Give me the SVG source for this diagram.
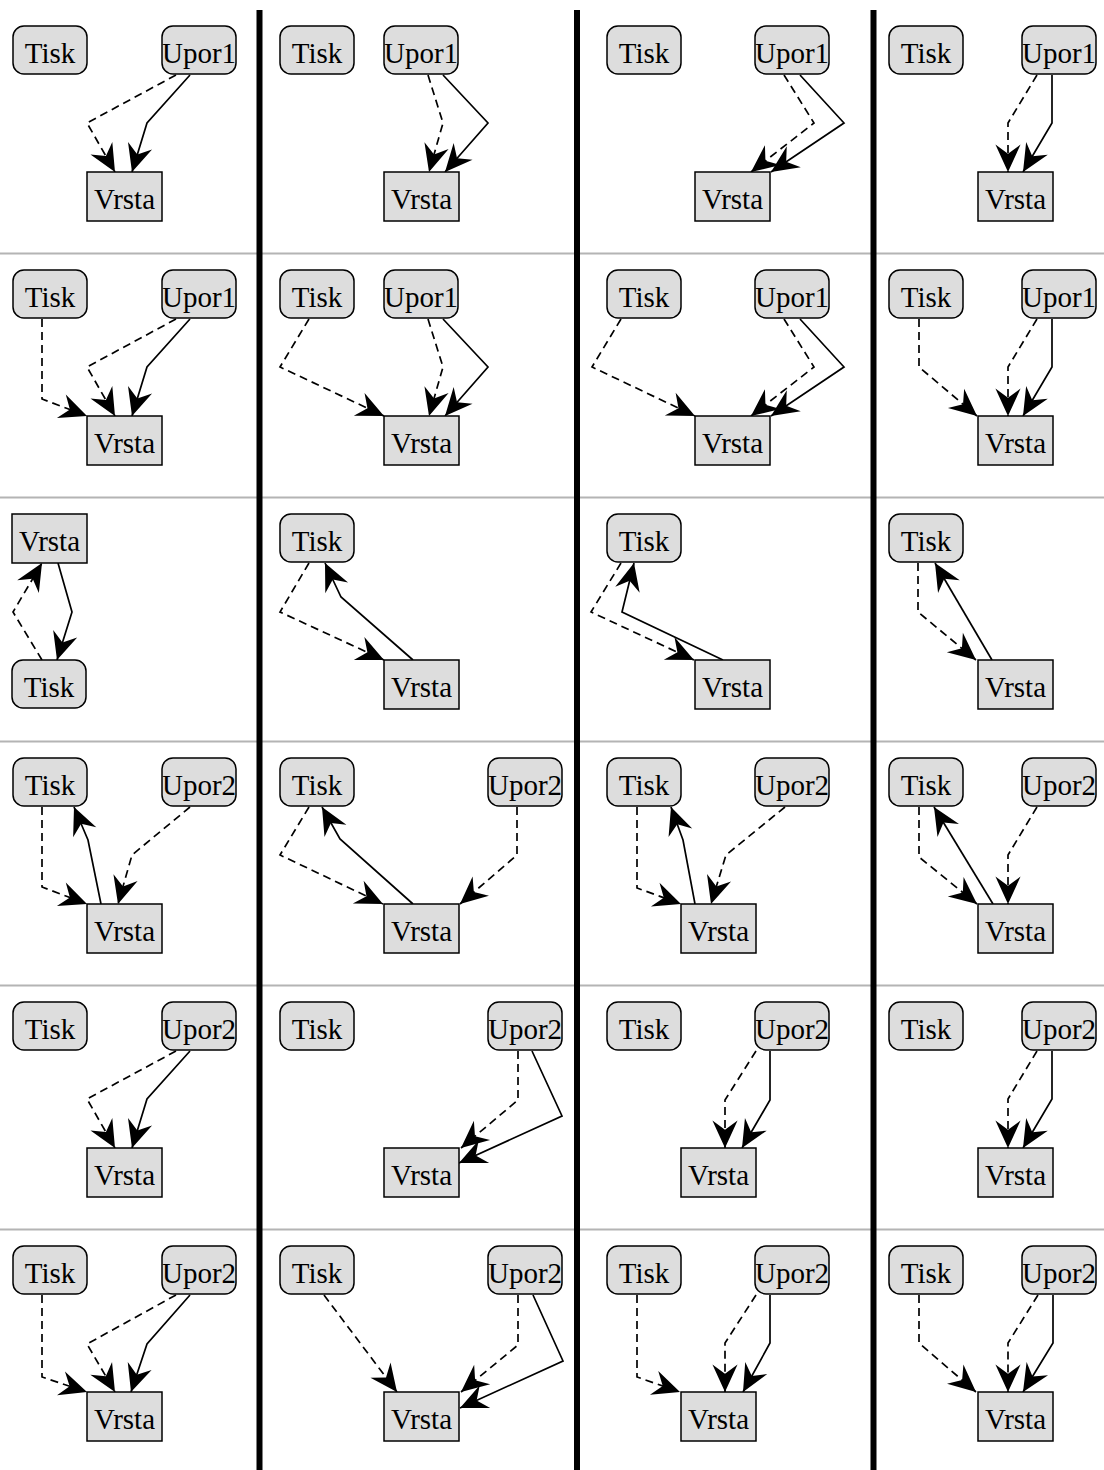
<svg xmlns="http://www.w3.org/2000/svg" width="1104" height="1470" viewBox="0 0 1104 1470">
<style>
.n{fill:#dddddd;stroke:#000;stroke-width:1.5}
text{font-family:'Liberation Serif','Times New Roman',Times,'DejaVu Serif',serif;font-size:29px;text-anchor:middle;fill:#000}
.e{fill:none;stroke:#000;stroke-width:1.7;marker-end:url(#ah)}
.d{stroke-dasharray:8 5}
.g{stroke:#b4b4b4;stroke-width:2}
.b{fill:#000}
</style>
<defs>
<marker id="ah" markerUnits="userSpaceOnUse" markerWidth="40" markerHeight="40" viewBox="-30 -15 35 30" refX="0" refY="0" orient="auto" overflow="visible">
<path d="M0,0 L-24,-11 L-16,0 L-24,11 Z" fill="#000" stroke="none"/>
</marker>
</defs>
<rect width="1104" height="1470" fill="#fff"/>
<g id="grid">
<line class="g" x1="0" y1="253.5" x2="1104" y2="253.5"/>
<line class="g" x1="0" y1="497.5" x2="1104" y2="497.5"/>
<line class="g" x1="0" y1="741.5" x2="1104" y2="741.5"/>
<line class="g" x1="0" y1="985.5" x2="1104" y2="985.5"/>
<line class="g" x1="0" y1="1229.5" x2="1104" y2="1229.5"/>
<rect class="b" x="256.5" y="10" width="6" height="1460"/>
<rect class="b" x="574" y="10" width="6" height="1460"/>
<rect class="b" x="870.5" y="10" width="6" height="1460"/>
</g>
<g id="edges">
<polyline class="e d" points="176,75 87,123 115,172"/>
<polyline class="e" points="190,75 147,123 132,172"/>
<polyline class="e d" points="428,75 443,123 429,172"/>
<polyline class="e" points="443,75 488,123 445,172"/>
<polyline class="e d" points="784,75 814,123 751,172"/>
<polyline class="e" points="800,75 844,123 771,172"/>
<polyline class="e d" points="1037,75 1008,123 1008,172"/>
<polyline class="e" points="1052,75 1052,123 1023,172"/>
<polyline class="e d" points="42,319 42,399 87,416"/>
<polyline class="e d" points="176,319 87,367 115,416"/>
<polyline class="e" points="190,319 147,367 132,416"/>
<polyline class="e d" points="309,319 280,367 384,416"/>
<polyline class="e d" points="428,319 443,367 429,416"/>
<polyline class="e" points="443,319 488,367 445,416"/>
<polyline class="e d" points="621,319 592,367 695,416"/>
<polyline class="e d" points="784,319 814,367 751,416"/>
<polyline class="e" points="800,319 844,367 771,416"/>
<polyline class="e d" points="919,319 919,367 977,416"/>
<polyline class="e d" points="1037,319 1008,367 1008,416"/>
<polyline class="e" points="1052,319 1052,367 1023,416"/>
<polyline class="e d" points="42,660 13,612 42,563"/>
<polyline class="e" points="58,563 72,612 57,660"/>
<polyline class="e d" points="309,563 280,612 384,660"/>
<polyline class="e" points="413,660 341,597 325,563"/>
<polyline class="e d" points="621,563 591,612 694,660"/>
<polyline class="e" points="723,660 622,612 634,563"/>
<polyline class="e d" points="918,563 918,612 976,660"/>
<polyline class="e" points="992,660 935,563"/>
<polyline class="e d" points="42,807 42,887 87,904"/>
<polyline class="e" points="101,904 88,840 74,807"/>
<polyline class="e d" points="190,807 132,855 118,904"/>
<polyline class="e d" points="309,807 280,855 383,904"/>
<polyline class="e" points="413,904 340,839 322,807"/>
<polyline class="e d" points="517,807 517,855 460,904"/>
<polyline class="e d" points="637,807 637,888 681,904"/>
<polyline class="e" points="695,904 683,840 671,807"/>
<polyline class="e d" points="785,807 726,855 711,904"/>
<polyline class="e d" points="919,807 919,857 977,904"/>
<polyline class="e" points="993,904 934,807"/>
<polyline class="e d" points="1037,807 1008,855 1008,904"/>
<polyline class="e d" points="176,1051 87,1099 115,1148"/>
<polyline class="e" points="190,1051 147,1099 132,1148"/>
<polyline class="e d" points="518,1051 518,1100 461,1148"/>
<polyline class="e" points="532,1051 562,1116 459,1163"/>
<polyline class="e d" points="756,1051 725,1100 725,1148"/>
<polyline class="e" points="770,1051 770,1100 742,1148"/>
<polyline class="e d" points="1037,1051 1008,1099 1008,1148"/>
<polyline class="e" points="1052,1051 1052,1099 1023,1148"/>
<polyline class="e d" points="42,1295 42,1377 87,1392"/>
<polyline class="e d" points="176,1295 87,1344 115,1392"/>
<polyline class="e" points="190,1295 147,1344 131,1392"/>
<polyline class="e d" points="324,1295 397,1392"/>
<polyline class="e d" points="518,1295 518,1345 461,1392"/>
<polyline class="e" points="533,1295 563,1361 460,1408"/>
<polyline class="e d" points="637,1295 637,1377 680,1392"/>
<polyline class="e d" points="756,1295 725,1343 725,1392"/>
<polyline class="e" points="770,1295 770,1343 743,1392"/>
<polyline class="e d" points="919,1295 919,1343 976,1392"/>
<polyline class="e d" points="1038,1295 1008,1343 1008,1392"/>
<polyline class="e" points="1053,1295 1053,1343 1023,1392"/>
</g>
<g id="r0c0-tisk"><rect class="n" x="13" y="26" width="74" height="48" rx="11"/><text x="50" y="63">Tisk</text></g>
<g id="r0c0-upor1"><rect class="n" x="162" y="26" width="74" height="48" rx="11"/><text x="199" y="63">Upor1</text></g>
<g id="r0c0-vrsta"><rect class="n" x="87" y="172" width="75" height="49"/><text x="124.5" y="209">Vrsta</text></g>
<g id="r0c1-tisk"><rect class="n" x="280" y="26" width="74" height="48" rx="11"/><text x="317" y="63">Tisk</text></g>
<g id="r0c1-upor1"><rect class="n" x="384" y="26" width="74" height="48" rx="11"/><text x="421" y="63">Upor1</text></g>
<g id="r0c1-vrsta"><rect class="n" x="384" y="172" width="75" height="49"/><text x="421.5" y="209">Vrsta</text></g>
<g id="r0c2-tisk"><rect class="n" x="607" y="26" width="74" height="48" rx="11"/><text x="644" y="63">Tisk</text></g>
<g id="r0c2-upor1"><rect class="n" x="755" y="26" width="74" height="48" rx="11"/><text x="792" y="63">Upor1</text></g>
<g id="r0c2-vrsta"><rect class="n" x="695" y="172" width="75" height="49"/><text x="732.5" y="209">Vrsta</text></g>
<g id="r0c3-tisk"><rect class="n" x="889" y="26" width="74" height="48" rx="11"/><text x="926" y="63">Tisk</text></g>
<g id="r0c3-upor1"><rect class="n" x="1022" y="26" width="74" height="48" rx="11"/><text x="1059" y="63">Upor1</text></g>
<g id="r0c3-vrsta"><rect class="n" x="978" y="172" width="75" height="49"/><text x="1015.5" y="209">Vrsta</text></g>
<g id="r1c0-tisk"><rect class="n" x="13" y="270" width="74" height="48" rx="11"/><text x="50" y="307">Tisk</text></g>
<g id="r1c0-upor1"><rect class="n" x="162" y="270" width="74" height="48" rx="11"/><text x="199" y="307">Upor1</text></g>
<g id="r1c0-vrsta"><rect class="n" x="87" y="416" width="75" height="49"/><text x="124.5" y="453">Vrsta</text></g>
<g id="r1c1-tisk"><rect class="n" x="280" y="270" width="74" height="48" rx="11"/><text x="317" y="307">Tisk</text></g>
<g id="r1c1-upor1"><rect class="n" x="384" y="270" width="74" height="48" rx="11"/><text x="421" y="307">Upor1</text></g>
<g id="r1c1-vrsta"><rect class="n" x="384" y="416" width="75" height="49"/><text x="421.5" y="453">Vrsta</text></g>
<g id="r1c2-tisk"><rect class="n" x="607" y="270" width="74" height="48" rx="11"/><text x="644" y="307">Tisk</text></g>
<g id="r1c2-upor1"><rect class="n" x="755" y="270" width="74" height="48" rx="11"/><text x="792" y="307">Upor1</text></g>
<g id="r1c2-vrsta"><rect class="n" x="695" y="416" width="75" height="49"/><text x="732.5" y="453">Vrsta</text></g>
<g id="r1c3-tisk"><rect class="n" x="889" y="270" width="74" height="48" rx="11"/><text x="926" y="307">Tisk</text></g>
<g id="r1c3-upor1"><rect class="n" x="1022" y="270" width="74" height="48" rx="11"/><text x="1059" y="307">Upor1</text></g>
<g id="r1c3-vrsta"><rect class="n" x="978" y="416" width="75" height="49"/><text x="1015.5" y="453">Vrsta</text></g>
<g id="r2c0-vrsta"><rect class="n" x="12" y="514" width="75" height="49"/><text x="49.5" y="551">Vrsta</text></g>
<g id="r2c0-tisk"><rect class="n" x="12" y="660" width="74" height="48" rx="11"/><text x="49" y="697">Tisk</text></g>
<g id="r2c1-tisk"><rect class="n" x="280" y="514" width="74" height="48" rx="11"/><text x="317" y="551">Tisk</text></g>
<g id="r2c1-vrsta"><rect class="n" x="384" y="660" width="75" height="49"/><text x="421.5" y="697">Vrsta</text></g>
<g id="r2c2-tisk"><rect class="n" x="607" y="514" width="74" height="48" rx="11"/><text x="644" y="551">Tisk</text></g>
<g id="r2c2-vrsta"><rect class="n" x="695" y="660" width="75" height="49"/><text x="732.5" y="697">Vrsta</text></g>
<g id="r2c3-tisk"><rect class="n" x="889" y="514" width="74" height="48" rx="11"/><text x="926" y="551">Tisk</text></g>
<g id="r2c3-vrsta"><rect class="n" x="978" y="660" width="75" height="49"/><text x="1015.5" y="697">Vrsta</text></g>
<g id="r3c0-tisk"><rect class="n" x="13" y="758" width="74" height="48" rx="11"/><text x="50" y="795">Tisk</text></g>
<g id="r3c0-upor2"><rect class="n" x="162" y="758" width="74" height="48" rx="11"/><text x="199" y="795">Upor2</text></g>
<g id="r3c0-vrsta"><rect class="n" x="87" y="904" width="75" height="49"/><text x="124.5" y="941">Vrsta</text></g>
<g id="r3c1-tisk"><rect class="n" x="280" y="758" width="74" height="48" rx="11"/><text x="317" y="795">Tisk</text></g>
<g id="r3c1-upor2"><rect class="n" x="488" y="758" width="74" height="48" rx="11"/><text x="525" y="795">Upor2</text></g>
<g id="r3c1-vrsta"><rect class="n" x="384" y="904" width="75" height="49"/><text x="421.5" y="941">Vrsta</text></g>
<g id="r3c2-tisk"><rect class="n" x="607" y="758" width="74" height="48" rx="11"/><text x="644" y="795">Tisk</text></g>
<g id="r3c2-upor2"><rect class="n" x="755" y="758" width="74" height="48" rx="11"/><text x="792" y="795">Upor2</text></g>
<g id="r3c2-vrsta"><rect class="n" x="681" y="904" width="75" height="49"/><text x="718.5" y="941">Vrsta</text></g>
<g id="r3c3-tisk"><rect class="n" x="889" y="758" width="74" height="48" rx="11"/><text x="926" y="795">Tisk</text></g>
<g id="r3c3-upor2"><rect class="n" x="1022" y="758" width="74" height="48" rx="11"/><text x="1059" y="795">Upor2</text></g>
<g id="r3c3-vrsta"><rect class="n" x="978" y="904" width="75" height="49"/><text x="1015.5" y="941">Vrsta</text></g>
<g id="r4c0-tisk"><rect class="n" x="13" y="1002" width="74" height="48" rx="11"/><text x="50" y="1039">Tisk</text></g>
<g id="r4c0-upor2"><rect class="n" x="162" y="1002" width="74" height="48" rx="11"/><text x="199" y="1039">Upor2</text></g>
<g id="r4c0-vrsta"><rect class="n" x="87" y="1148" width="75" height="49"/><text x="124.5" y="1185">Vrsta</text></g>
<g id="r4c1-tisk"><rect class="n" x="280" y="1002" width="74" height="48" rx="11"/><text x="317" y="1039">Tisk</text></g>
<g id="r4c1-upor2"><rect class="n" x="488" y="1002" width="74" height="48" rx="11"/><text x="525" y="1039">Upor2</text></g>
<g id="r4c1-vrsta"><rect class="n" x="384" y="1148" width="75" height="49"/><text x="421.5" y="1185">Vrsta</text></g>
<g id="r4c2-tisk"><rect class="n" x="607" y="1002" width="74" height="48" rx="11"/><text x="644" y="1039">Tisk</text></g>
<g id="r4c2-upor2"><rect class="n" x="755" y="1002" width="74" height="48" rx="11"/><text x="792" y="1039">Upor2</text></g>
<g id="r4c2-vrsta"><rect class="n" x="681" y="1148" width="75" height="49"/><text x="718.5" y="1185">Vrsta</text></g>
<g id="r4c3-tisk"><rect class="n" x="889" y="1002" width="74" height="48" rx="11"/><text x="926" y="1039">Tisk</text></g>
<g id="r4c3-upor2"><rect class="n" x="1022" y="1002" width="74" height="48" rx="11"/><text x="1059" y="1039">Upor2</text></g>
<g id="r4c3-vrsta"><rect class="n" x="978" y="1148" width="75" height="49"/><text x="1015.5" y="1185">Vrsta</text></g>
<g id="r5c0-tisk"><rect class="n" x="13" y="1246" width="74" height="48" rx="11"/><text x="50" y="1283">Tisk</text></g>
<g id="r5c0-upor2"><rect class="n" x="162" y="1246" width="74" height="48" rx="11"/><text x="199" y="1283">Upor2</text></g>
<g id="r5c0-vrsta"><rect class="n" x="87" y="1392" width="75" height="49"/><text x="124.5" y="1429">Vrsta</text></g>
<g id="r5c1-tisk"><rect class="n" x="280" y="1246" width="74" height="48" rx="11"/><text x="317" y="1283">Tisk</text></g>
<g id="r5c1-upor2"><rect class="n" x="488" y="1246" width="74" height="48" rx="11"/><text x="525" y="1283">Upor2</text></g>
<g id="r5c1-vrsta"><rect class="n" x="384" y="1392" width="75" height="49"/><text x="421.5" y="1429">Vrsta</text></g>
<g id="r5c2-tisk"><rect class="n" x="607" y="1246" width="74" height="48" rx="11"/><text x="644" y="1283">Tisk</text></g>
<g id="r5c2-upor2"><rect class="n" x="755" y="1246" width="74" height="48" rx="11"/><text x="792" y="1283">Upor2</text></g>
<g id="r5c2-vrsta"><rect class="n" x="681" y="1392" width="75" height="49"/><text x="718.5" y="1429">Vrsta</text></g>
<g id="r5c3-tisk"><rect class="n" x="889" y="1246" width="74" height="48" rx="11"/><text x="926" y="1283">Tisk</text></g>
<g id="r5c3-upor2"><rect class="n" x="1022" y="1246" width="74" height="48" rx="11"/><text x="1059" y="1283">Upor2</text></g>
<g id="r5c3-vrsta"><rect class="n" x="978" y="1392" width="75" height="49"/><text x="1015.5" y="1429">Vrsta</text></g>
</svg>
